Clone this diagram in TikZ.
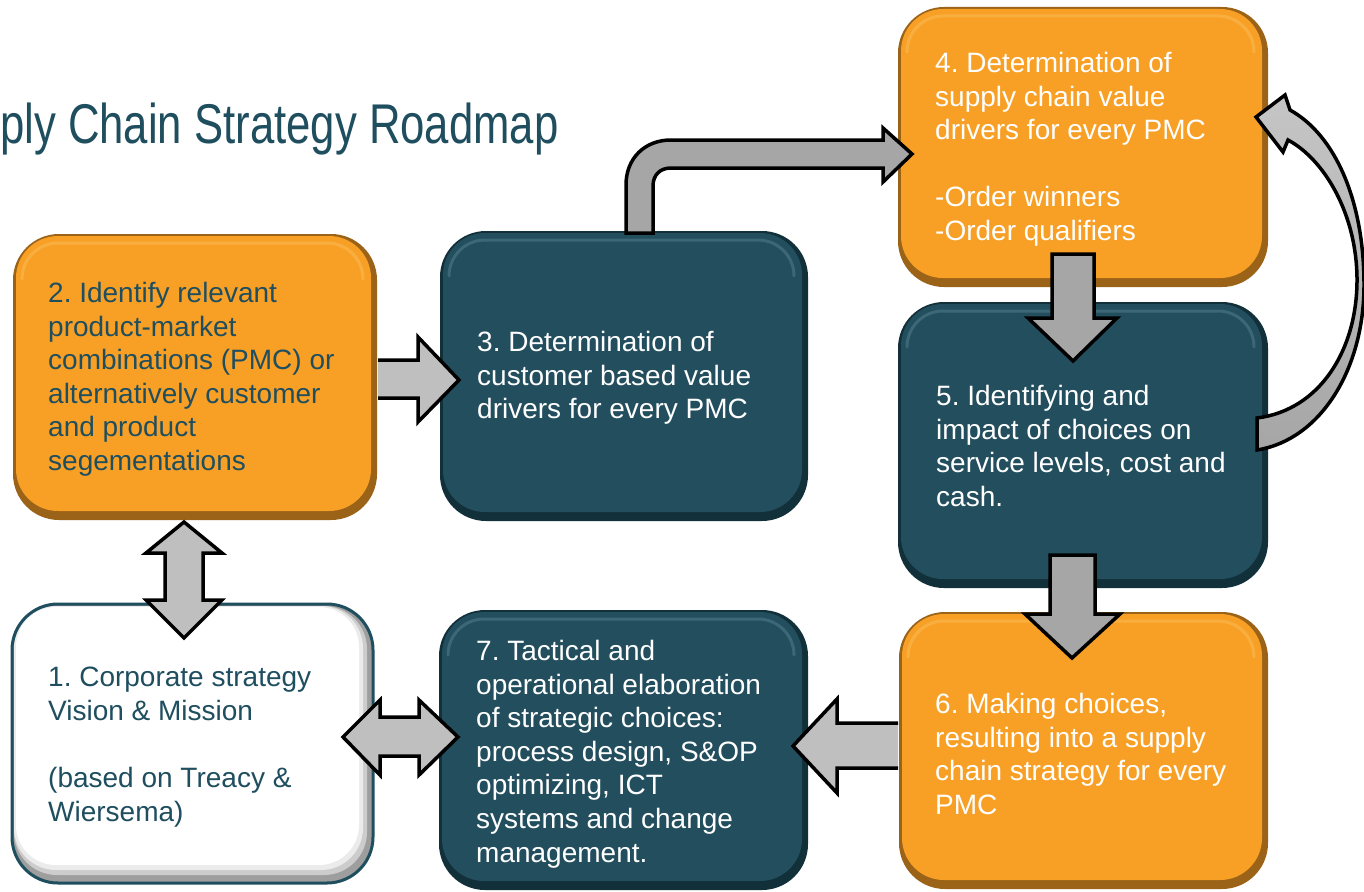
\documentclass[tikz,border=0pt]{standalone}
\usepackage{fontspec}
\setmainfont{Liberation Sans}
\newfontfamily\titlefont[FakeStretch=0.78]{Liberation Sans}
\definecolor{orMain}{HTML}{F8A026}
\definecolor{orDark}{HTML}{9A6318}
\definecolor{orLight}{HTML}{FDCB70}
\definecolor{tlMain}{HTML}{224E5E}
\definecolor{tlDark}{HTML}{12303A}
\definecolor{tlLight}{HTML}{6A97A6}
\definecolor{tlText}{HTML}{1F4E5F}
\definecolor{arrA}{HTML}{BFBFBF}
\definecolor{arrB}{HTML}{A6A6A6}
\newcommand\rbox[7]{%
  \fill[#5, rounded corners=46pt] (#1,#2) rectangle (#3,#4);
  \fill[#6, rounded corners=42pt] ({#1+3},{#2+2}) rectangle ({#3-6},{#4-9});
  \draw[#7, line width=3pt, rounded corners=36pt, opacity=.35, line cap=round]
    ({#1+9},{#2+45}) -- ({#1+9},{#2+9}) -- ({#3-14},{#2+9}) -- ({#3-14},{#2+45});
}
\begin{document}
\frenchspacing
\begin{tikzpicture}[x=1pt,y=-1pt,
  txt/.style={anchor=north west, inner sep=0pt, align=left, font=\fontsize{28}{33.6}\selectfont},
  arrline/.style={draw=black, line width=3.5pt, line join=miter, miter limit=10},
]
\useasboundingbox (0,0) rectangle (1364,891);
\fill[white] (0,0) rectangle (1364,891);

% title
\node[anchor=base west, inner sep=0pt, font=\titlefont\fontsize{56}{60}\selectfont, text=tlText] (title) at (0,143) {ply Chain Strategy Roadmap};

% boxes
\rbox{13}{234}{377}{520}{orDark}{orMain}{orLight}
\rbox{440}{231}{808}{521}{tlDark}{tlMain}{tlLight}
\rbox{898}{7}{1268}{287}{orDark}{orMain}{orLight}
\rbox{898}{302}{1268}{588}{tlDark}{tlMain}{tlLight}
\rbox{899}{612}{1268}{889}{orDark}{orMain}{orLight}
\rbox{439}{610}{808}{890}{tlDark}{tlMain}{tlLight}
% box 1 (white)
\fill[black!38, rounded corners=46pt] (12,604) rectangle (373,883);
\fill[black!20, rounded corners=43pt] (14,606) rectangle (367,875);
\fill[black!8, rounded corners=42pt] (14,606) rectangle (363,870);
\fill[white, rounded corners=40pt] (16,607) rectangle (359,865);
\draw[tlText, line width=3pt, rounded corners=46pt] (12,604) rectangle (373,883);

% texts
\node[txt, text=tlText] (b2) at (48,282) {2. Identify relevant\\product-market\\combinations (PMC) or\\alternatively customer\\and product\\segementations};
\node[txt, text=white] (b3) at (477,331) {3. Determination of\\customer based value\\drivers for every PMC};
\node[txt, text=white] (b4) at (935,52) {4. Determination of\\supply chain value\\drivers for every PMC\\\mbox{}\\-Order winners\\-Order qualifiers};
\node[txt, text=white] (b5) at (936,385) {5. Identifying and\\impact of choices on\\service levels, cost and\\cash.};
\node[txt, text=white] (b6) at (935,693) {6. Making choices,\\resulting into a supply\\chain strategy for every\\PMC};
\node[txt, text=white] (b7) at (476,640) {7. Tactical and\\operational elaboration\\of strategic choices:\\process design, S\&OP\\optimizing, ICT\\systems and change\\management.};
\node[txt, text=tlText] (b1) at (48,667) {1. Corporate strategy\\Vision \& Mission\\\mbox{}\\(based on Treacy \&\\Wiersema)};

% arrow 2 -> 3 (open tail)
\fill[arrA] (378,360) -- (418,360) -- (418,337) -- (459,380) -- (418,422) -- (418,398) -- (378,398) -- cycle;
\draw[arrline] (378,360) -- (418,360) -- (418,337) -- (459,380) -- (418,422) -- (418,398) -- (378,398);

% bent arrow 3 -> 4
\filldraw[arrline, fill=arrB] (626,233) -- (626,185) .. controls (626,158) and (645,140) .. (671,140)
  -- (883,140) -- (883,128) -- (912,154) -- (883,182) -- (883,168) -- (671,168)
  .. controls (660,168) and (653,175) .. (653,186) -- (653,233) -- cycle;

% arrow 4 -> 5
\filldraw[arrline, fill=arrB] (1052,254) -- (1094,254) -- (1094,318) -- (1117,318) -- (1073,361) -- (1028,318) -- (1052,318) -- cycle;

% arrow 5 -> 6
\filldraw[arrline, fill=arrB] (1050,555) -- (1095,555) -- (1095,614) -- (1120,614) -- (1072,658) -- (1025,614) -- (1050,614) -- cycle;

% arrow 6 -> 7 (open tail)
\fill[arrA] (898,723) -- (837,723) -- (837,699) -- (793,746) -- (837,793) -- (837,768) -- (898,768) -- cycle;
\draw[arrline] (898,723) -- (837,723) -- (837,699) -- (793,746) -- (837,793) -- (837,768) -- (898,768);

% double arrow 1 <-> 2
\filldraw[arrline, fill=arrA] (184,522) -- (222,553) -- (203,553) -- (203,600) -- (222,600) -- (184,638)
  -- (146,600) -- (165,600) -- (165,553) -- (146,553) -- cycle;

% double arrow 1 <-> 7
\filldraw[arrline, fill=arrA] (343,737) -- (380,700) -- (380,717) -- (419,717) -- (419,700) -- (458,737)
  -- (419,775) -- (419,756) -- (380,756) -- (380,775) -- cycle;

% curved arrow 5 -> 4
\shade[top color=arrA!90!white, bottom color=arrB] (1257,450) .. controls (1320,440) and (1364,370) .. (1364,285)
  .. controls (1364,200) and (1335,135) .. (1290,110) -- (1285,95) -- (1256,117) -- (1283,152) -- (1288,140)
  .. controls (1325,160) and (1357,215) .. (1357,280) .. controls (1357,350) and (1320,410) .. (1257,418) -- cycle;
\draw[arrline] (1257,450) .. controls (1320,440) and (1364,370) .. (1364,285)
  .. controls (1364,200) and (1335,135) .. (1290,110) -- (1285,95) -- (1256,117) -- (1283,152) -- (1288,140)
  .. controls (1325,160) and (1357,215) .. (1357,280) .. controls (1357,350) and (1320,410) .. (1257,418) -- cycle;
\end{tikzpicture}
\end{document}
